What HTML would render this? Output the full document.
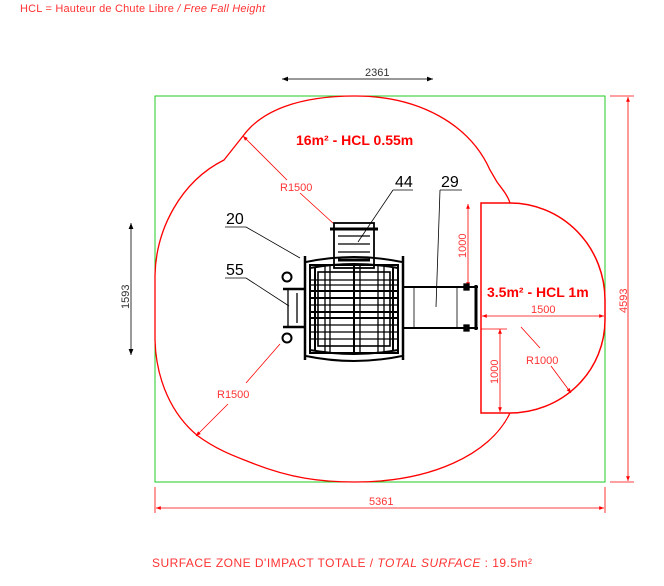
<!DOCTYPE html>
<html><head><style>
body{margin:0;background:#fff;}
svg{display:block;font-family:"Liberation Sans",sans-serif;}
</style></head><body>
<svg width="664" height="586" viewBox="0 0 664 586" xmlns="http://www.w3.org/2000/svg">
<defs>
<marker id="ar" viewBox="0 0 10 10" refX="10" refY="5" markerWidth="8" markerHeight="6" orient="auto-start-reverse"><path d="M0,1 L10,5 L0,9 z" fill="#f00"/></marker>
<marker id="ab" viewBox="0 0 10 10" refX="10" refY="5" markerWidth="8" markerHeight="6" orient="auto-start-reverse"><path d="M0,1 L10,5 L0,9 z" fill="#000"/></marker>
</defs>
<text x="20" y="12" font-size="11" fill="#f33" textLength="245">HCL = Hauteur de Chute Libre <tspan font-style="italic">/ Free Fall Height</tspan></text>
<rect x="155" y="96" width="450" height="386" fill="none" stroke="#2c2" stroke-width="1"/>
<path d="M355,96 C300,96 262,110 243,136 L224,160 C180,182 156,230 155,275 L155,340 C156,380 172,415 198,436 C220,452 240,458 252,463 C290,478 320,482 355,482 C430,482 490,455 510,413 M355,96 C420,96 470,125 490,170 L497,182 C503,190 508,196 510,203" fill="none" stroke="#f00" stroke-width="1.3"/>
<path d="M481,203 L510,203 A95,97 0 0 1 605,300 L605,320 A95,93 0 0 1 510,413 L481,413 Z" fill="none" stroke="#f00" stroke-width="1.5"/>
<text x="296" y="145" font-size="14" font-weight="bold" fill="#f00">16m² - HCL 0.55m</text>
<text x="487" y="297" font-size="14" font-weight="bold" fill="#f00">3.5m² - HCL 1m</text>
<g stroke="#f00" stroke-width="0.8" fill="none">
<line x1="243" y1="136" x2="287" y2="180" marker-start="url(#ar)"/>
<line x1="300" y1="193" x2="334" y2="224"/>
<line x1="196" y1="436" x2="228" y2="404" marker-start="url(#ar)"/>
<line x1="246" y1="383" x2="280" y2="344"/>
<line x1="468" y1="204" x2="468" y2="287" marker-start="url(#ar)" marker-end="url(#ar)"/>
<line x1="500" y1="329" x2="500" y2="412" marker-start="url(#ar)" marker-end="url(#ar)"/>
<line x1="481" y1="329" x2="507" y2="329"/>
<line x1="482" y1="316" x2="604" y2="316" marker-start="url(#ar)" marker-end="url(#ar)"/>
<line x1="521" y1="327" x2="540" y2="348"/>
<line x1="551" y1="366" x2="571" y2="393" marker-end="url(#ar)"/>
<line x1="610" y1="96" x2="634" y2="96"/>
<line x1="610" y1="482" x2="634" y2="482"/>
<line x1="628" y1="97" x2="628" y2="481" marker-start="url(#ar)" marker-end="url(#ar)"/>
<line x1="155" y1="487" x2="155" y2="513"/>
<line x1="605" y1="487" x2="605" y2="513"/>
<line x1="156" y1="508" x2="604" y2="508" marker-start="url(#ar)" marker-end="url(#ar)"/>
</g>
<g fill="#f33" font-size="11">
<text x="280" y="191">R1500</text>
<text x="217" y="398">R1500</text>
<text x="526" y="364">R1000</text>
<text x="531" y="313">1500</text>
<text x="369" y="505">5361</text>
<text transform="translate(466,258) rotate(-90)">1000</text>
<text transform="translate(498,384) rotate(-90)">1000</text>
<text transform="translate(627,313) rotate(-90)">4593</text>
</g>
<g stroke="#333" stroke-width="1" fill="none">
<line x1="282" y1="79" x2="433" y2="79" marker-start="url(#ab)" marker-end="url(#ab)"/>
<line x1="131" y1="223" x2="131" y2="355" marker-start="url(#ab)" marker-end="url(#ab)"/>
</g>
<text x="365" y="76" font-size="11" fill="#333">2361</text>
<text transform="translate(129,309) rotate(-90)" font-size="11" fill="#333">1593</text>
<g stroke="#000" fill="none" stroke-width="1.3">
<rect x="334" y="223" width="40" height="45" stroke-width="1.8"/>
<line x1="330" y1="229" x2="378" y2="229" stroke-width="3"/>
<line x1="338" y1="236" x2="370" y2="236"/><line x1="338" y1="244" x2="370" y2="244"/><line x1="338" y1="252" x2="370" y2="252"/><line x1="338" y1="260" x2="370" y2="260" stroke-width="3"/>
<line x1="305" y1="256" x2="305" y2="360" stroke-width="2.5"/>
<line x1="403" y1="256" x2="403" y2="360" stroke-width="2.5"/>
<rect x="310" y="265" width="88" height="88" stroke-width="2"/>
<rect x="318" y="272" width="72" height="74" stroke-width="1.6"/>
<line x1="310" y1="280" x2="398" y2="280"/><line x1="310" y1="285" x2="398" y2="285"/><line x1="310" y1="291" x2="398" y2="291" stroke-width="2"/>
<line x1="310" y1="298" x2="398" y2="298" stroke-width="2"/><line x1="310" y1="305" x2="398" y2="305"/><line x1="310" y1="312" x2="398" y2="312" stroke-width="2"/>
<line x1="310" y1="318" x2="398" y2="318" stroke-width="2"/><line x1="310" y1="325" x2="398" y2="325"/><line x1="310" y1="332" x2="398" y2="332"/><line x1="310" y1="339" x2="398" y2="339"/>
<line x1="325" y1="265" x2="325" y2="353"/><line x1="330" y1="265" x2="330" y2="353"/><line x1="354" y1="265" x2="354" y2="353" stroke-width="2"/><line x1="360" y1="265" x2="360" y2="353"/><line x1="378" y1="265" x2="378" y2="353"/><line x1="384" y1="265" x2="384" y2="353"/>
<line x1="315" y1="268" x2="315" y2="350" stroke-width="2"/><line x1="393" y1="268" x2="393" y2="350" stroke-width="2"/>
<path d="M306,262 Q354,252 402,262 M306,356 Q354,366 402,356 M310,268 Q354,260 398,268 M310,350 Q354,358 398,350" stroke-width="2"/>
<line x1="283" y1="289" x2="305" y2="289" stroke-width="2.5"/>
<line x1="283" y1="327" x2="305" y2="327" stroke-width="2.5"/>
<line x1="288" y1="289" x2="288" y2="327"/><line x1="297" y1="293" x2="297" y2="323"/>
<circle cx="287" cy="277" r="4.5" stroke-width="2"/><circle cx="287" cy="338" r="4.5" stroke-width="2"/>
<line x1="403" y1="287" x2="478" y2="287" stroke-width="2"/>
<line x1="403" y1="328" x2="478" y2="328" stroke-width="2"/>
<line x1="414" y1="287" x2="414" y2="328" stroke-width="0.8"/><line x1="457" y1="287" x2="457" y2="328" stroke-width="0.8"/>
<line x1="476" y1="285" x2="476" y2="330" stroke-width="3"/>
<rect x="464" y="284" width="5" height="6" fill="#000"/><rect x="464" y="325" width="5" height="6" fill="#000"/>
</g>
<g stroke="#000" stroke-width="0.8" fill="none">
<line x1="225" y1="227" x2="246" y2="227"/><line x1="246" y1="227" x2="300" y2="258"/>
<line x1="225" y1="278" x2="246" y2="278"/><line x1="246" y1="278" x2="289" y2="306"/>
<line x1="393" y1="190" x2="413" y2="190"/><line x1="393" y1="190" x2="358" y2="242"/>
<line x1="440" y1="190" x2="462" y2="190"/><line x1="440" y1="190" x2="436" y2="307"/>
</g>
<g font-size="16" fill="#000">
<text x="226" y="224">20</text><text x="226" y="275">55</text>
<text x="395" y="187">44</text><text x="441" y="187">29</text>
</g>
<text x="152" y="567" font-size="12" fill="#f33" textLength="380">SURFACE ZONE D'IMPACT TOTALE / <tspan font-style="italic">TOTAL SURFACE</tspan> : 19.5m²</text>
</svg>
</body></html>
